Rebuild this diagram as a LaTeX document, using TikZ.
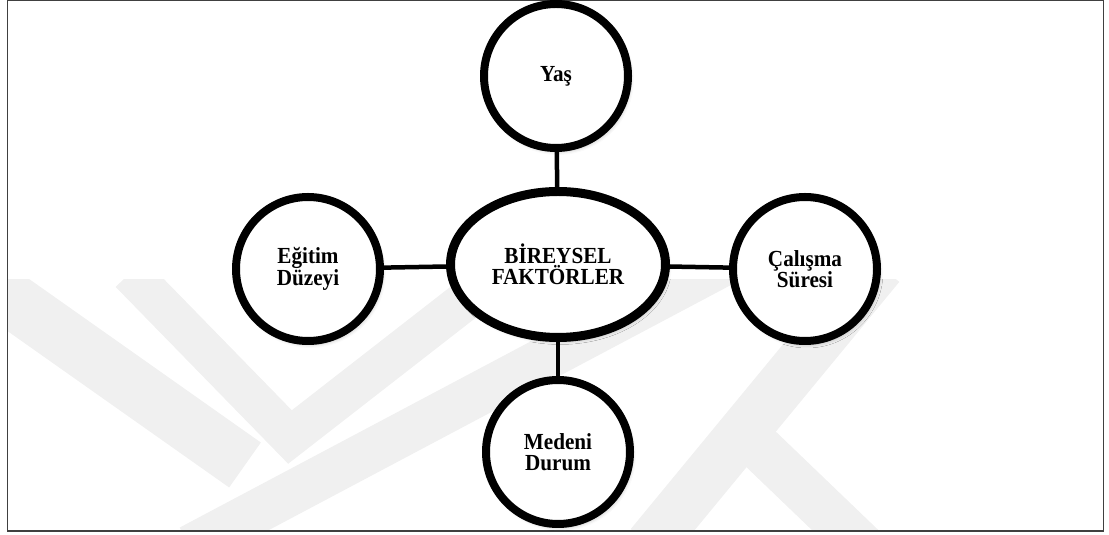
\documentclass[tikz,border=0pt]{standalone}
\usepackage{fontspec}
\setmainfont{Liberation Serif}
\newfontfamily\labelfam{Liberation Serif}[FakeStretch=0.92]
\usetikzlibrary{shapes.geometric,shadows.blur}
\begin{document}
\begin{tikzpicture}[x=1pt,y=1pt,
  labelfont/.style={font=\labelfam\fontsize{23}{21}\selectfont\bfseries},
  softshadow/.style={blur shadow={shadow xshift=2pt, shadow yshift=-3pt,
      shadow blur radius=4pt, shadow opacity=30}},
  factor/.style={circle, draw=black, line width=8pt, fill=white,
      minimum size=144pt, inner sep=0pt, outer sep=0pt, align=center,
      labelfont, softshadow},
  core/.style={ellipse, draw=black, line width=9pt, fill=white,
      minimum width=215pt, minimum height=146pt, inner sep=0pt,
      outer sep=0pt, align=center, labelfont, softshadow},
  link/.style={line width=4.5pt, black},
  stripe/.style={black!6, line cap=butt, line join=miter}
]
\useasboundingbox (0,0) rectangle (1109,535);

% faint emblem in the background
\begin{scope}
  \clip (8,4) rectangle (1103,255);
  \draw[stripe, line width=55pt] (-20,257) -- (245,70);
  \draw[stripe, line width=40pt] (130,262) -- (290,98) -- (520,277);
  \draw[stripe, line width=44pt] (190,-12) -- (750,285);
  \draw[stripe, line width=50pt] (650,-10) -- (880,269);
  \draw[stripe, line width=46pt] (743,103) -- (868,-17);
\end{scope}

% outer frame
\draw[black!75, line width=1.6pt] (7.5,4) rectangle (1103.5,534.5);

% factors
\node[core]   (core)    at (558,270.5) {BİREYSEL\\FAKTÖRLER};
\node[factor] (yas)     at (556,459)   {Yaş};
\node[factor] (egitim)  at (308,266)   {Eğitim\\Düzeyi};
\node[factor] (calisma) at (805,266)   {Çalışma\\Süresi};
\node[factor] (medeni)  at (558,83)    {Medeni\\Durum};

% connectors
\draw[link] (yas) -- (core);
\draw[link] (egitim) -- (core);
\draw[link] (core) -- (calisma);
\draw[link] (core) -- (medeni);
\end{tikzpicture}
\end{document}
